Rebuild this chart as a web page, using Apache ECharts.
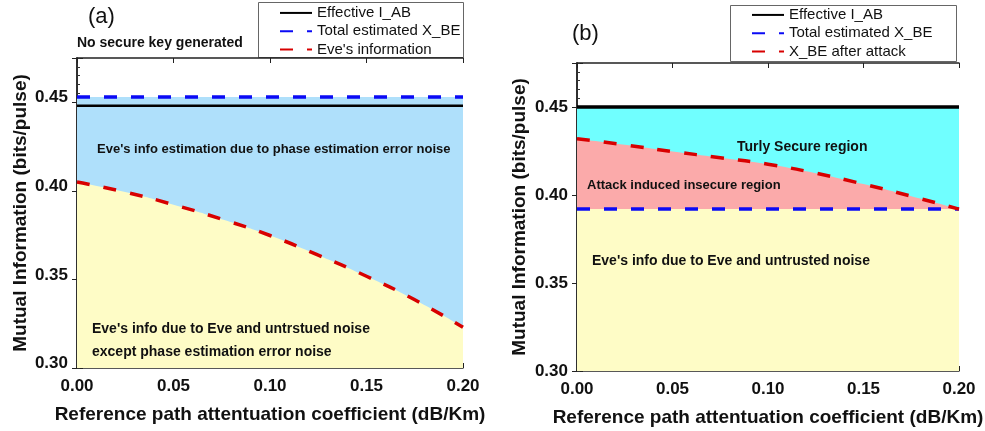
<!DOCTYPE html>
<html>
<head>
    <title>Mutual information vs reference path attenuation</title>
    <script src="https://cdn.jsdelivr.net/npm/echarts@6/dist/echarts.min.js"></script>
    <style>
        html, body { margin: 0; padding: 0; background: #fff; }
    </style>
</head>
<body>
    <div id="chart" style="width:985px; height:431px"></div>

    <script>
        // x values (dB/Km)
        const xAtten = [0, 0.025, 0.05, 0.075, 0.10, 0.125, 0.15, 0.175, 0.20];

        // panel (a)
        const aEffectiveIAB = [0.448, 0.448, 0.448, 0.448, 0.448, 0.448, 0.448, 0.448, 0.448];
        const aTotalXBE     = [0.453, 0.453, 0.453, 0.453, 0.453, 0.453, 0.453, 0.453, 0.453];
        const aEveInfo      = [0.4050, 0.3993, 0.3922, 0.3840, 0.3748, 0.3637, 0.3518, 0.3385, 0.3230];

        // panel (b)
        const bEffectiveIAB = [0.450, 0.450, 0.450, 0.450, 0.450, 0.450, 0.450, 0.450, 0.450];
        const bTotalXBE     = [0.392, 0.392, 0.392, 0.392, 0.392, 0.392, 0.392, 0.392, 0.392];
        const bAfterAttack  = [0.4320, 0.4285, 0.4247, 0.4212, 0.4175, 0.4124, 0.4062, 0.3993, 0.3920];

        const legendA = ['Effective I_AB', 'Total estimated X_BE', "Eve's information"];
        const legendB = ['Effective I_AB', 'Total estimated X_BE', 'X_BE after attack'];

        const yTicks = [0.30, 0.35, 0.40, 0.45];

        const FONT = '"Liberation Sans", Arial, sans-serif';
        const xName = 'Reference path attentuation coefficient (dB/Km)';
        const yName = 'Mutual Information (bits/pulse)';

        function pairs(ys) {
            return xAtten.map((x, i) => [x, ys[i]]);
        }

        let chart = echarts.init(document.getElementById('chart'));

        // axis builders
        function bottomAxis(grid) {
            return {
                type: 'value', gridIndex: grid, position: 'bottom',
                min: 0, max: 0.2, interval: 0.05,
                name: xName, nameLocation: 'middle', nameGap: 30, nameMoveOverlap: false,
                nameTextStyle: { fontFamily: FONT, fontWeight: 'bold', fontSize: 19, color: '#111' },
                axisLine: { lineStyle: { color: '#222', width: 1.5 } },
                axisTick: { inside: true, length: 5, lineStyle: { color: '#222' } },
                minorTick: { show: true, splitNumber: 5, length: 3, lineStyle: { color: '#333' } },
                axisLabel: {
                    margin: 4, fontFamily: FONT, fontWeight: 'bold', fontSize: 17, color: '#111',
                    formatter: v => v.toFixed(2)
                },
                splitLine: { show: false }
            };
        }
        function topAxis(grid) {
            return {
                type: 'value', gridIndex: grid, position: 'top',
                min: 0, max: 0.2, interval: 0.05,
                axisLine: { lineStyle: { color: '#222', width: 1.5 } },
                axisTick: { inside: true, length: 5, lineStyle: { color: '#222' } },
                axisLabel: { show: false },
                splitLine: { show: false }
            };
        }
        function leftAxis(grid, gap, raise) {
            return {
                type: 'value', gridIndex: grid, position: 'left',
                min: 0.30, max: 0.475, interval: 0.05,
                name: yName, nameLocation: 'middle', nameGap: gap, nameMoveOverlap: false,
                nameTextStyle: { fontFamily: FONT, fontWeight: 'bold', fontSize: 19, color: '#111' },
                axisLine: { lineStyle: { color: '#222', width: 1.5 } },
                axisTick: { inside: true, length: 6, lineStyle: { color: '#222' } },
                axisLabel: Object.assign({
                    margin: 9, fontFamily: FONT, fontWeight: 'bold', fontSize: 17, color: '#111',
                    formatter: v => yTicks.some(t => Math.abs(t - v) < 1e-6) ? v.toFixed(2) : ''
                }, raise ? { verticalAlign: 'bottom', lineHeight: 9 } : {}),
                splitLine: { show: false }
            };
        }
        // extra left axis just for the minor ticks every 0.005
        function leftMinorAxis(grid) {
            return {
                type: 'value', gridIndex: grid, position: 'left', offset: 0,
                min: 0.30, max: 0.475, interval: 0.005,
                axisLine: { show: false },
                axisTick: { inside: true, length: 3, lineStyle: { color: '#333' } },
                axisLabel: { show: false },
                splitLine: { show: false }
            };
        }
        function rightAxis(grid) {
            return {
                type: 'value', gridIndex: grid, position: 'right',
                min: 0.30, max: 0.475, interval: 0.05,
                axisLine: { lineStyle: { color: '#222', width: 1.5 } },
                axisTick: { inside: true, length: 5, lineStyle: { color: '#222' } },
                axisLabel: { show: false },
                splitLine: { show: false }
            };
        }

        function fill(xi, yi, ys, color, z, smooth) {
            return {
                type: 'line', xAxisIndex: xi, yAxisIndex: yi, data: pairs(ys),
                smooth: smooth || false, symbol: 'none', silent: true, z: z,
                lineStyle: { width: 0, opacity: 0 },
                areaStyle: { color: color, opacity: 1, origin: 'start' }
            };
        }
        function line(xi, yi, name, ys, color, width, dashed, smooth) {
            return {
                type: 'line', name: name, xAxisIndex: xi, yAxisIndex: yi, data: pairs(ys),
                smooth: smooth || false, symbol: 'none', z: 10,
                itemStyle: { color: color },
                lineStyle: { color: color, width: width, type: dashed ? [13, 14] : 'solid' }
            };
        }

        // legend rows come out ~26px tall here, so pull them together with a negative gap
        function legend(left, top, names) {
            return {
                data: names, orient: 'vertical', left: left, top: top,
                itemWidth: 32, itemHeight: 14, itemGap: -7.5,
                padding: 0,
                itemStyle: { opacity: 0 },
                textStyle: { fontFamily: FONT, fontSize: 15, color: '#111' },
                selectedMode: false
            };
        }

        function frame(x, y, w, h) {
            return {
                type: 'rect', z: -1, silent: true,
                shape: { x: x, y: y, width: w, height: h },
                style: { fill: '#fff', stroke: '#666', lineWidth: 1 }
            };
        }

        function label(x, y, text, size, weight) {
            return {
                type: 'text', z: 100, silent: true,
                style: {
                    x: x, y: y, text: text, fill: '#111',
                    font: (weight || 'bold') + ' ' + size + 'px ' + FONT,
                    verticalAlign: 'middle'
                }
            };
        }

        let option = {
            animation: false,
            grid: [
                { left: 77, right: 522, top: 58, bottom: 63, outerBoundsMode: 'none' },
                { left: 577, right: 26, top: 63, bottom: 60, outerBoundsMode: 'none' }
            ],
            xAxis: [bottomAxis(0), topAxis(0), bottomAxis(1), topAxis(1)],
            yAxis: [leftAxis(0, 40, true), rightAxis(0), leftMinorAxis(0),
                    leftAxis(1, 41, false), rightAxis(1), leftMinorAxis(1)],
            legend: [
                legend(279, 0, legendA),
                legend(751, 2, legendB)
            ],
            series: [
                // panel (a) fills
                fill(0, 0, aTotalXBE, '#afe0fb', 1),
                fill(0, 0, aEveInfo, '#fefcc6', 2, true),
                line(0, 0, 'Effective I_AB', aEffectiveIAB, '#000', 2.5, false),
                line(0, 0, 'Total estimated X_BE', aTotalXBE, '#0a0af5', 3.5, true),
                line(0, 0, "Eve's information", aEveInfo, '#d80000', 3.5, true, true),

                // panel (b) fills
                fill(2, 3, bEffectiveIAB, '#70ffff', 1),
                fill(2, 3, bAfterAttack, '#fbaaaa', 2, true),
                fill(2, 3, bTotalXBE, '#fefcc6', 3),
                line(2, 3, 'Effective I_AB', bEffectiveIAB, '#000', 3.5, false),
                line(2, 3, 'Total estimated X_BE', bTotalXBE, '#0a0af5', 3.5, true),
                line(2, 3, 'X_BE after attack', bAfterAttack, '#d80000', 3.5, true, true)
            ],
            graphic: [
                frame(258.5, 2.5, 205, 55),
                frame(730.5, 5.5, 226, 56),
                label(88, 17, '(a)', 22, 'normal'),
                label(572, 34, '(b)', 22, 'normal'),
                label(77, 43, 'No secure key generated', 14),
                label(97, 149, "Eve's info estimation due to phase estimation error noise", 13),
                label(92, 329, "Eve's info due to Eve and untrstued noise", 14),
                label(92, 352, 'except phase estimation error noise', 14),
                label(737, 147, 'Turly Secure region', 14),
                label(587, 185, 'Attack induced insecure region', 13),
                label(592, 261, "Eve's info due to Eve and untrusted noise", 14)
            ]
        };

        chart.setOption(option);
    </script>
</body>
</html>
